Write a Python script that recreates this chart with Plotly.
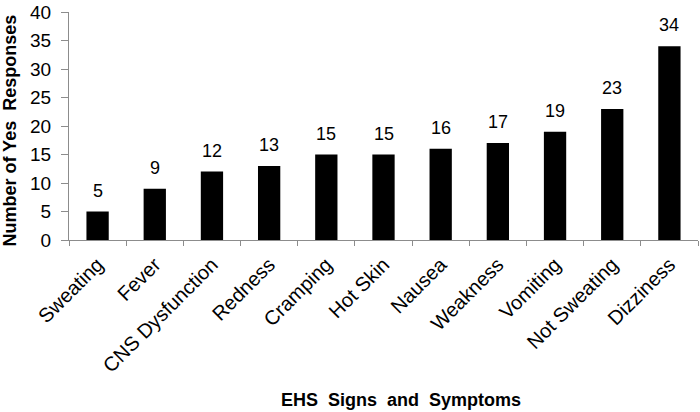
import plotly.graph_objects as go

categories = ["Sweating", "Fever", "CNS Dysfunction", "Redness", "Cramping", "Hot Skin",
              "Nausea", "Weakness", "Vomiting", "Not Sweating", "Dizziness"]
values = [5, 9, 12, 13, 15, 15, 16, 17, 19, 23, 34]
y_ticks = [0, 5, 10, 15, 20, 25, 30, 35, 40]

FONT = "Liberation Sans, Arial, sans-serif"
NB = "\u00a0"

fig = go.Figure(go.Bar(
    x=categories, y=values,
    marker=dict(color="black", line=dict(width=0)),
    cliponaxis=False,
))
for c, v in zip(categories, values):
    fig.add_annotation(
        x=c, y=v, xref="x", yref="y", text=str(v), showarrow=False,
        yanchor="bottom", yshift=9,
        font=dict(family=FONT, size=18, color="black"),
    )

fig.update_layout(
    width=700, height=412,
    margin=dict(l=69, r=2, t=12, b=172),
    paper_bgcolor="white", plot_bgcolor="white",
    bargap=0.61, showlegend=False,
    font=dict(family=FONT, color="black"),
)
fig.update_xaxes(
    type="category", showline=True, linecolor="#8c8c8c", linewidth=1,
    ticks="outside", tickson="boundaries", ticklen=5, tickcolor="#8c8c8c",
    tickangle=-45, tickfont=dict(family=FONT, size=20, color="black"),
    ticklabelstandoff=4,
    showgrid=False, automargin=False,
)
fig.update_yaxes(
    range=[0, 40], tickvals=y_ticks, showline=True, linecolor="#8c8c8c", linewidth=1,
    ticks="outside", ticklen=7, tickcolor="#8c8c8c", ticklabelstandoff=6,
    tickfont=dict(family=FONT, size=19, color="black"), showgrid=False, zeroline=False,
    automargin=False,
)
fig.add_annotation(
    text="<b>EHS" + NB * 2 + "Signs" + NB * 2 + "and" + NB * 2 + "Symptoms</b>",
    xref="paper", yref="paper", x=0.528, y=0, yanchor="middle", yshift=-160,
    showarrow=False, font=dict(family=FONT, size=18, color="black"),
)
fig.add_annotation(
    text="<b>Number of Yes" + NB * 2 + "Responses</b>",
    xref="paper", yref="paper", x=0, y=0.48, xanchor="center", yanchor="middle",
    xshift=-59, textangle=-90,
    showarrow=False, font=dict(family=FONT, size=18, color="black"),
)
fig.write_html("out.html", config={"displayModeBar": False},
               post_script="document.body.style.margin='0';")
